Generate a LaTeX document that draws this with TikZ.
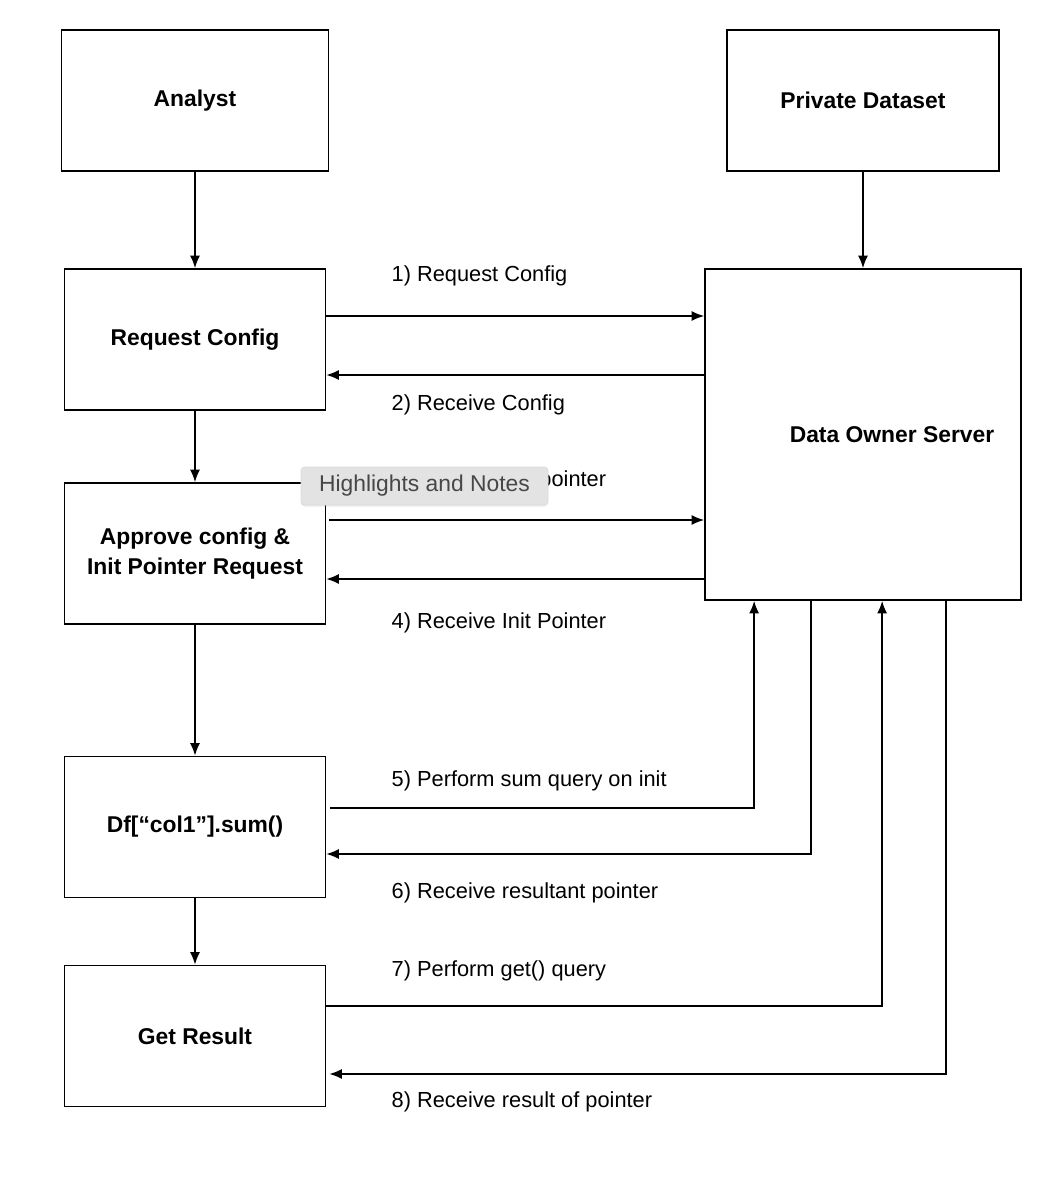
\documentclass[tikz,border=0pt]{standalone}
\usepackage{fontspec}
\setmainfont{Liberation Sans}
\usepackage{tikz}
\usetikzlibrary{arrows.meta,calc,shadows}
\tikzset{box/.style={draw, rectangle, line width=1pt, align=center, inner sep=0pt, font=\fontsize{13}{17}\selectfont\bfseries, minimum width=5.22cm, minimum height=2.82cm}}
\tikzset{serverbox/.style={box, minimum width=6.32cm, minimum height=6.62cm}}
\tikzset{boxtext/.style={draw=none, inner sep=0pt, font=\fontsize{13}{17}\selectfont\bfseries}}
\tikzset{steplabel/.style={anchor=west, inner sep=0pt, font=\fontsize{12.4}{15}\selectfont}}
\tikzset{tooltip/.style={draw=black!14, fill=black!11, text=black!72, rounded corners=2pt, minimum width=4.94cm, minimum height=0.76cm, inner sep=0pt, font=\fontsize{13}{15}\selectfont, drop shadow={opacity=0.12, shadow xshift=0pt, shadow yshift=-1pt}}}
\tikzset{line/.style={draw, line width=0.8pt, -{Latex[length=2.5mm, width=2mm]}}}

\begin{document}
\begin{tikzpicture}
		\useasboundingbox (0,0) rectangle (20.92,-23.76);
		
		\node [box, minimum width=5.34cm] (analyst) at (3.9,-2.01) {Analyst};
		\node [box, minimum width=5.44cm, right of=analyst, node distance=13.36cm] (dataset) {Private Dataset};
		\node [serverbox, below of=dataset, node distance=6.68cm] (server) {};
		\node [boxtext, right of=server, node distance=0.58cm] (srvtext) {Data Owner Server};
		
		% analyst side
		\node [box, below of=analyst, node distance=4.78cm] (reqcfg) {Request Config};
		\node [box, below of=reqcfg, node distance=4.28cm] (approve) {Approve config \&\\ Init Pointer Request};
		\node [box, below of=approve, node distance=5.47cm] (dfsum) {Df[“col1”].sum()};
		\node [box, below of=dfsum, node distance=4.18cm] (getres) {Get Result};
		
		\coordinate (q5) at ([xshift=1cm]server.south west);
		\coordinate (r6) at ([xshift=2.14cm]server.south west);
		\coordinate (q7) at ([xshift=3.56cm]server.south west);
		\coordinate (r8) at ([xshift=4.84cm]server.south west);
		
		\path [line] (analyst) -- (reqcfg);
		\path [line] (dataset) -- (server);
		\path [line] (reqcfg) -- (approve);
		\path [line] (approve) -- (dfsum);
		\path [line] (dfsum) -- (getres);
		
		% requests and replies
		\path [line] ([yshift=0.47cm]reqcfg.east) -- ([yshift=0.47cm]reqcfg.east -| server.west);
		\path [line] ([yshift=-0.71cm]reqcfg.east -| server.west) -- ([yshift=-0.71cm]reqcfg.east);
		\path [line] ([xshift=0.06cm, yshift=0.67cm]approve.east) -- ([yshift=0.67cm]approve.east -| server.west);
		\path [line] ([yshift=-0.51cm]approve.east -| server.west) -- ([yshift=-0.51cm]approve.east);
		\path [line] ([xshift=0.08cm, yshift=0.38cm]dfsum.east) -| (q5);
		\path [line] (r6) |- ([yshift=-0.54cm]dfsum.east);
		\path [line] ([yshift=0.6cm]getres.east) -| (q7);
		\path [line] (r8) |- ([xshift=0.06cm, yshift=-0.76cm]getres.east);
		
		\node [steplabel] (lbl1) at ([shift={(1.3,1.27)}]reqcfg.east) {1) Request Config};
		\node [steplabel] (lbl2) at ([shift={(1.3,-1.31)}]reqcfg.east) {2) Receive Config};
		\node [steplabel] (lbl3) at ([shift={(1.3,1.45)}]approve.east) {3) Request Init pointer};
		\node [steplabel] (lbl4) at ([shift={(1.3,-1.39)}]approve.east) {4) Receive Init Pointer};
		\node [steplabel] (lbl5) at ([shift={(1.3,0.92)}]dfsum.east) {5) Perform sum query on init};
		\node [steplabel] (lbl6) at ([shift={(1.3,-1.32)}]dfsum.east) {6) Receive resultant pointer};
		\node [steplabel] (lbl7) at ([shift={(1.3,1.3)}]getres.east) {7) Perform get() query};
		\node [steplabel] (lbl8) at ([shift={(1.3,-1.32)}]getres.east) {8) Receive result of pointer};
		
		% overlay on top
		\node [tooltip] (notes) at (8.49,-9.72) {Highlights and Notes};
		
\end{tikzpicture}
\end{document}
